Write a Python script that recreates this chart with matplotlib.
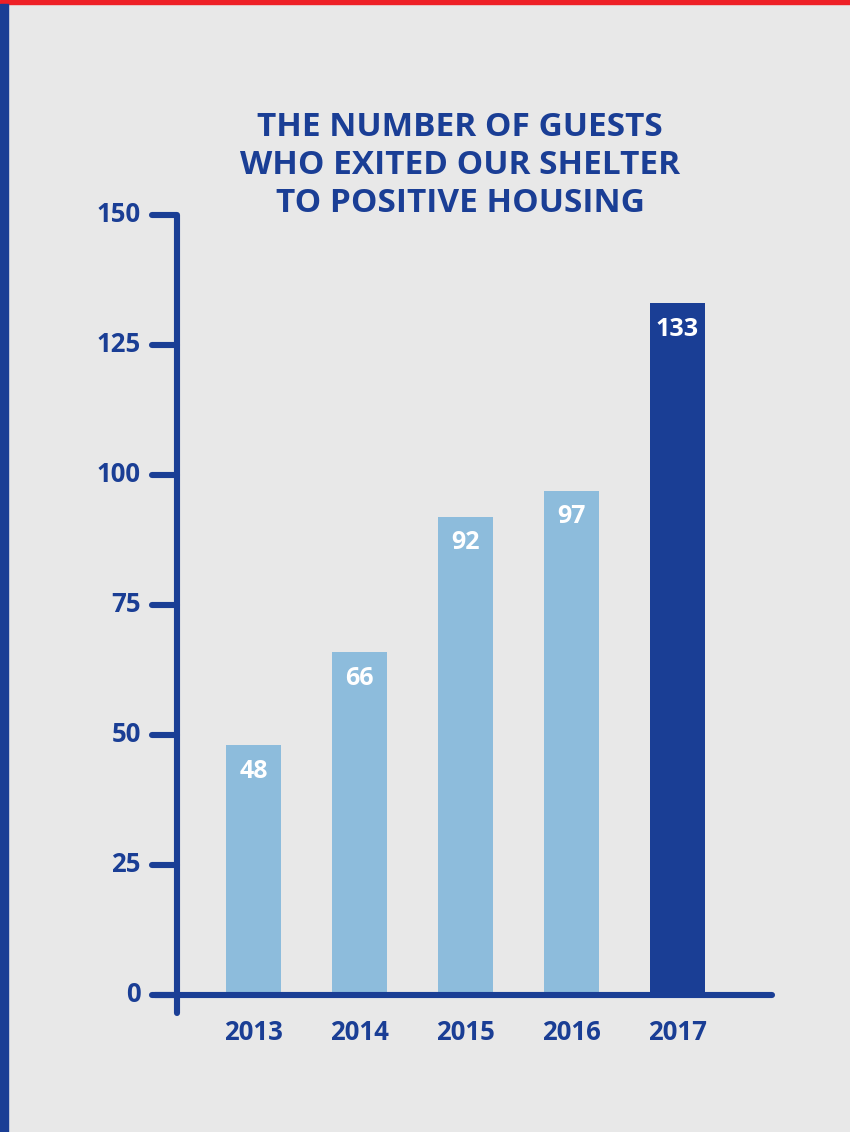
import matplotlib
matplotlib.use('Agg')
from matplotlib import pyplot as plt
from matplotlib.patches import Rectangle

years = ['2013', '2014', '2015', '2016', '2017']
guests = [48, 66, 92, 97, 133]
y_ticks = [0, 25, 50, 75, 100, 125, 150]
title = 'THE NUMBER OF GUESTS\nWHO EXITED OUR SHELTER\nTO POSITIVE HOUSING'

DARK_BLUE = '#1a3e95'
LIGHT_BLUE = '#8dbcdc'
BG = '#e8e8e8'
RED = '#ee2026'

plt.rcParams['font.family'] = ['Open Sans', 'DejaVu Sans']

W, H = 850, 1132
fig = plt.figure(figsize=(W / 100, H / 100), dpi=100, facecolor=BG)

# frame decorations: red top band and blue strip on the left
fig.patches.append(Rectangle((0, 1 - 4 / H), 1, 4 / H, transform=fig.transFigure,
                             color=RED, zorder=0))
fig.patches.append(Rectangle((0, 0), 8 / W, 1 - 4 / H, transform=fig.transFigure,
                             color=DARK_BLUE, zorder=0))

left, right, bottom, top = 177, 772, 995, 215
ax = fig.add_axes([left / W, (H - bottom) / H, (right - left) / W, (bottom - top) / H])
ax.set_facecolor('none')

x0, step = 253.5, 106.0
ax.set_xlim((left - x0) / step, (right - x0) / step)
ax.set_ylim(0, 150)

xs = list(range(len(years)))
colors = [LIGHT_BLUE] * (len(years) - 1) + [DARK_BLUE]
ax.bar(xs, guests, width=55 / step, color=colors, zorder=2)

for x, v in zip(xs, guests):
    ax.annotate(str(v), (x, v), xytext=(0, -10), textcoords='offset points',
                ha='center', va='top', color='white', fontsize=18,
                fontweight='bold', zorder=3)

# axis lines drawn by hand
px = lambda p: (p - x0) / step
py_per = 150 / (bottom - top)
lw = 4.4
tick_l = px(152)
ax.plot([tick_l, px(left), px(left)], [150, 150, -18 * py_per],
        color=DARK_BLUE, lw=lw, solid_capstyle='round', solid_joinstyle='round',
        clip_on=False, zorder=4)
ax.plot([px(155), px(right)], [0, 0], color=DARK_BLUE, lw=lw,
        solid_capstyle='round', clip_on=False, zorder=4)
for t in y_ticks[:-1]:
    ax.plot([tick_l, px(left)], [t, t], color=DARK_BLUE, lw=lw,
            solid_capstyle='round', clip_on=False, zorder=4)

for t in y_ticks:
    ax.text(px(141), t, str(t), ha='right', va='center', color=DARK_BLUE,
            fontsize=18.5, fontweight='bold')

for x, yr in zip(xs, years):
    ax.text(x, -37 * py_per, yr, ha='center', va='center', color=DARK_BLUE,
            fontsize=18.5, fontweight='bold')

for s in ax.spines.values():
    s.set_visible(False)
ax.set_xticks([])
ax.set_yticks([])

fig.text(460 / W, 1 - 165 / H, title, ha='center', va='center', color=DARK_BLUE,
         fontsize=24, fontweight='bold', linespacing=1.2)

fig.savefig('out.png', dpi=100, facecolor=BG)
